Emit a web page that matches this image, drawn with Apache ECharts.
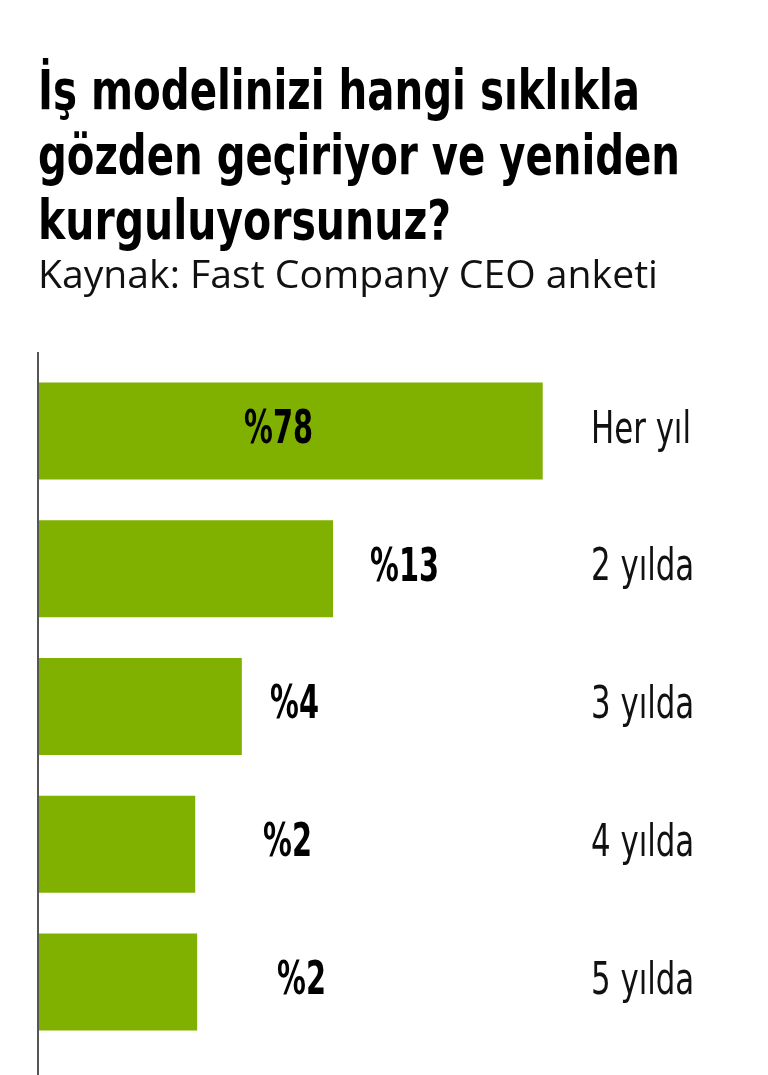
<!DOCTYPE html>
<html>
<head>
<meta charset="utf-8">
<script src="https://cdn.jsdelivr.net/npm/echarts@6/dist/echarts.min.js"></script>
<style>html,body{margin:0;padding:0;background:#fff}#c{width:768px;height:1075px}</style>
</head>
<body>
<div id="c"></div>
<script>
// ---- data ----
var categories = ['Her yıl', '2 yılda', '3 yılda', '4 yılda', '5 yılda'];
var percentValues = [78, 13, 4, 2, 2];            // shown as labels (%)
var barLengths = [78, 45.6, 31.5, 24.3, 24.6];     // drawn bar lengths (same units as the %78 bar)
var titleLines = ['İş modelinizi hangi sıklıkla', 'gözden geçiriyor ve yeniden', 'kurguluyorsunuz?'];
var subtitleText = 'Kaynak: Fast Company CEO anketi';

// ---- styling ----
var labelDx = [206, 332, 232, 225, 239];
var condensed = "'Liberation Sans Narrow', 'DejaVu Sans Condensed', 'Roboto', sans-serif";
var green = '#80b000';
var xMax = 85;

var mctx = document.createElement('canvas').getContext('2d');
function fit(text, font, target) {
  mctx.font = font;
  return target / mctx.measureText(text).width;
}

var titleFont = 'bold 56px ' + condensed;
var titleTargets = [602, 642, 413];
var titleMid = [94, 159, 224];
var graphics = titleLines.map(function (t, i) {
  return {
    type: 'text', x: 38, y: titleMid[i], scaleX: fit(t, titleFont, titleTargets[i]),
    style: { text: t, font: titleFont, fill: '#000', verticalAlign: 'middle', align: 'left' }
  };
});
var subFont = '38px "Open Sans", sans-serif';
graphics.push({
  type: 'text', x: 38, y: 277, scaleX: fit(subtitleText, subFont, 620),
  style: { text: subtitleText, font: subFont, fill: '#111', verticalAlign: 'middle', align: 'left' }
});
graphics.push({
  type: 'line', z: 100,
  shape: { x1: 38, y1: 352, x2: 38, y2: 1075 },
  style: { stroke: '#555', lineWidth: 2 }
});

var valueFont = 'bold 46px ' + condensed;
var valueScale = fit('%78', valueFont, 69);
var catFont = '45px ' + condensed;
var catScale = fit('Her yıl', catFont, 100);

var chart = echarts.init(document.getElementById('c'), null, { renderer: 'canvas' });
chart.setOption({
  animation: false,
  backgroundColor: '#fff',
  graphic: graphics,
  grid: { left: 38, top: 362, bottom: 24, right: 180, containLabel: false },
  xAxis: { type: 'value', min: 0, max: xMax, show: false },
  yAxis: { type: 'category', data: categories, inverse: true, show: false },
  series: [
    {
      type: 'bar', barWidth: 97,
      itemStyle: { color: green },
      data: barLengths
    },
    {
      type: 'custom', clip: false, z: 5,
      data: percentValues.map(function (v, i) { return [0, i, v]; }),
      encode: { x: 0, y: 1 },
      renderItem: function (params, api) {
        var i = params.dataIndex;
        var p = api.coord([0, i]);
        return {
          type: 'text', x: p[0] + labelDx[i], y: p[1], scaleX: valueScale,
          style: { text: '%' + api.value(2), font: valueFont, fill: '#000', align: 'left', verticalAlign: 'middle' }
        };
      }
    },
    {
      type: 'custom', clip: false, z: 5,
      data: categories.map(function (c, i) { return [xMax, i]; }),
      encode: { x: 0, y: 1 },
      renderItem: function (params, api) {
        var i = params.dataIndex;
        var p = api.coord([xMax, i]);
        return {
          type: 'text', x: p[0] + 3, y: p[1], scaleX: catScale,
          style: { text: categories[i], font: catFont, fill: '#111', align: 'left', verticalAlign: 'middle' }
        };
      }
    }
  ]
});
</script>
</body>
</html>
